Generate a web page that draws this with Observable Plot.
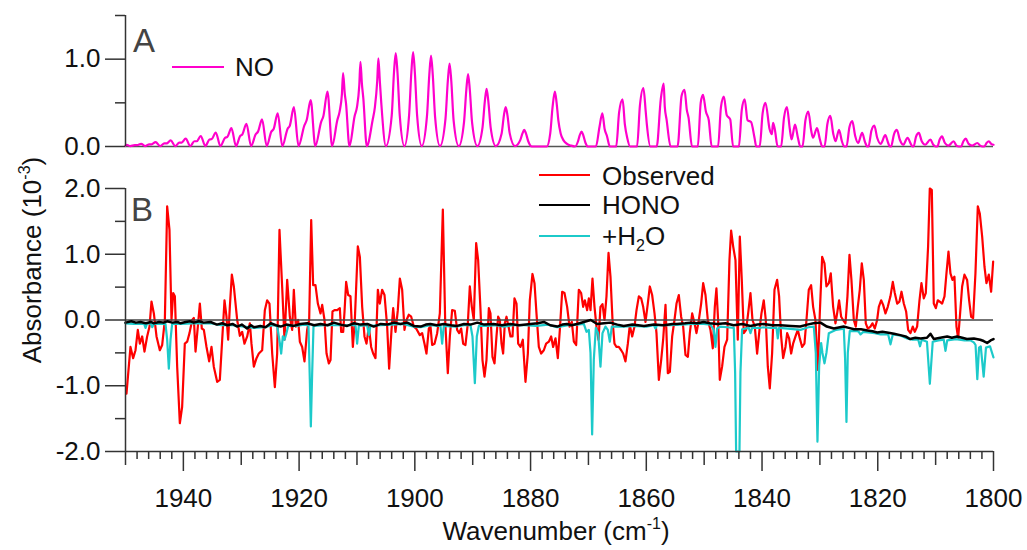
<!DOCTYPE html>
<html>
<head>
<meta charset="utf-8">
<script src="https://cdn.jsdelivr.net/npm/d3@7"></script>
<script src="https://cdn.jsdelivr.net/npm/@observablehq/plot@0.6"></script>
<style>
  html, body { margin: 0; padding: 0; background: #fff; }
  #wrap { position: relative; width: 1027px; height: 550px; overflow: hidden; background: #fff; }
  #wrap svg { position: absolute; left: 0; }
  .lbl { position: absolute; font-family: "Liberation Sans", Arial, Helvetica, sans-serif; font-size: 26px; line-height: 26px; color: #111; white-space: nowrap; }
  .sup { font-size: 16px; position: relative; top: -11px; }
  .sub { font-size: 16px; position: relative; top: 6px; }
  .panel { font-size: 33px; line-height: 33px; color: #444; }
  .legline { position: absolute; height: 2px; }
</style>
</head>
<body>
<div id="wrap"></div>
<script>
// ---------------- data ----------------
// [wavenumber (cm-1), absorbance]
const noSpectrum = [
[1950.0,0.01],[1949.8,0.02],[1949.2,0.005],
[1948.4,0.015],[1948.0,0.015],[1947.3,0.03],[1946.6,0.005],
[1945.9,0.025],[1945.5,0.025],[1944.8,0.05],[1944.0,0.005],
[1943.3,0.035],[1942.9,0.035],[1942.2,0.07],[1941.4,0.005],
[1940.7,0.045],[1940.3,0.045],[1939.6,0.09],[1938.8,0.005],
[1938.1,0.06],[1937.7,0.06],[1937.0,0.12],[1936.2,0.005],
[1935.5,0.08],[1935.1,0.085],[1934.4,0.16],[1933.6,0.005],
[1932.8,0.10],[1932.4,0.11],[1931.7,0.21],[1930.9,0.005],
[1930.2,0.12],[1929.8,0.14],[1929.1,0.26],[1928.3,0.005],
[1927.5,0.14],[1927.1,0.17],[1926.4,0.31],[1925.6,0.005],
[1924.8,0.17],[1924.4,0.20],[1923.7,0.38],[1922.9,0.005],
[1922.0,0.20],[1921.6,0.24],[1920.9,0.45],[1920.1,0.005],
[1919.1,0.24],[1918.7,0.30],[1918.0,0.53],[1917.2,0.005],
[1916.2,0.28],[1915.8,0.35],[1915.1,0.63],[1914.3,0.005],
[1913.4,0.30],[1913.0,0.40],[1912.6,0.60],[1912.4,0.84],[1912.1,0.60],[1911.9,0.50],[1911.3,0.005],
[1910.4,0.35],[1910.0,0.45],[1909.6,0.70],[1909.4,0.97],[1909.15,0.72],[1908.9,0.55],[1908.3,0.005],
[1907.3,0.30],[1906.9,0.45],[1906.5,0.75],[1906.3,1.01],[1906.05,0.75],[1905.8,0.50],[1905.0,0.005],
[1904.0,0.35],[1903.6,0.85],[1903.3,1.07],[1903.0,0.85],[1902.6,0.35],[1901.8,0.005],
[1901.0,0.35],[1900.6,0.85],[1900.3,1.08],[1900.0,0.85],[1899.6,0.35],[1898.8,0.005],
[1897.9,0.35],[1897.5,0.82],[1897.2,1.04],[1896.9,0.82],[1896.5,0.34],[1895.65,0.005],
[1894.7,0.32],[1894.3,0.75],[1894.0,0.95],[1893.7,0.75],[1893.3,0.30],[1892.4,0.005],
[1891.5,0.28],[1891.1,0.65],[1890.8,0.83],[1890.5,0.65],[1890.1,0.27],[1889.2,0.005],
[1888.3,0.22],[1887.9,0.52],[1887.6,0.66],[1887.3,0.52],[1886.9,0.22],[1886.0,0.005],
[1885.0,0.15],[1884.6,0.36],[1884.3,0.45],[1884.0,0.36],[1883.6,0.15],[1882.7,0.005],
[1881.8,0.07],[1881.4,0.15],[1881.1,0.19],[1880.8,0.15],[1880.4,0.06],[1879.8,0],
[1877.2,0],[1876.6,0.15],[1876.2,0.45],[1875.8,0.63],[1875.5,0.50],[1875.2,0.30],[1874.8,0.15],[1874.3,0.07],[1873.7,0.03],[1873.0,0.01],[1872.3,0],
[1871.8,0.06],[1871.5,0.13],[1871.2,0.17],[1870.9,0.13],[1870.5,0.04],[1870.1,0],
[1868.7,0],[1868.1,0.22],[1867.6,0.38],[1867.2,0.20],[1866.8,0.12],[1866.3,0],
[1865.2,0],[1864.7,0.39],[1864.1,0.54],[1863.7,0.25],[1863.3,0.10],[1862.8,0],
[1861.6,0],[1861.1,0.47],[1860.5,0.67],[1860.1,0.40],[1859.9,0.25],[1859.3,0],
[1858.2,0],[1857.5,0.54],[1857.0,0.72],[1856.8,0.45],[1856.5,0.31],[1855.8,0],
[1854.6,0],[1853.9,0.58],[1853.4,0.65],[1853.0,0.42],[1852.7,0.33],[1852.1,0],
[1851.1,0],[1850.6,0.50],[1850.2,0.59],[1849.7,0.40],[1849.2,0.30],[1848.7,0],
[1847.6,0],[1847.1,0.45],[1846.6,0.57],[1846.1,0.36],[1845.5,0.31],[1845.0,0],
[1844.0,0],[1843.5,0.42],[1843.0,0.54],[1842.5,0.30],[1841.9,0.28],[1841.3,0.10],[1841.0,0],
[1840.4,0],[1839.9,0.38],[1839.4,0.50],[1838.7,0.20],[1838.3,0.14],[1838.1,0.27],[1837.8,0.20],[1837.3,0],
[1836.7,0],[1836.2,0.33],[1835.7,0.45],[1835.2,0.20],[1834.9,0.08],[1834.3,0.25],[1833.8,0.10],[1833.4,0],
[1833.0,0],[1832.5,0.30],[1832.0,0.40],[1831.5,0.18],[1831.2,0.10],[1830.5,0.21],[1830.0,0.08],[1829.6,0],
[1829.2,0],[1828.7,0.26],[1828.2,0.35],[1827.7,0.15],[1827.3,0.06],[1826.7,0.19],[1826.2,0.06],[1825.8,0],
[1825.4,0],[1824.9,0.22],[1824.4,0.29],[1823.9,0.12],[1823.4,0.04],[1822.7,0.155],[1822.2,0.05],[1821.8,0],
[1821.6,0],[1821.1,0.18],[1820.6,0.24],[1820.1,0.10],[1819.5,0.03],[1818.7,0.13],[1818.2,0.04],[1817.9,0],
[1817.7,0],[1817.2,0.14],[1816.7,0.19],[1816.2,0.08],[1815.6,0.02],[1814.85,0.10],[1814.3,0.03],[1814.0,0],
[1813.8,0],[1813.4,0.11],[1812.9,0.155],[1812.4,0.06],[1811.8,0.02],[1810.9,0.08],[1810.4,0.02],[1810.0,0],
[1809.7,0],[1809.3,0.08],[1808.9,0.116],[1808.4,0.04],[1807.8,0.01],[1806.9,0.06],[1806.4,0.01],[1806.0,0],
[1805.6,0],[1805.2,0.06],[1804.8,0.09],[1804.3,0.03],[1803.7,0.01],[1802.8,0.04],[1802.3,0.01],[1801.9,0],
[1801.6,0],[1801.2,0.04],[1800.8,0.06],[1800.4,0.03],[1800.0,0.02]
];

// [wavenumber (cm-1), absorbance (10^-3)]
const observedSpectrum = [
[1949.83,-1.12],[1949.14,-0.41],[1948.68,-0.58],[1948.27,-0.46],[1947.87,-0.15],[1947.52,-0.36],[1947.12,-0.25],[1946.72,-0.48],[1946.26,-0.25],[1945.85,-0.10],[1945.51,0.28],[1945.10,0.10],[1944.64,-0.25],[1944.07,-0.46],[1943.66,-0.38],[1943.20,0],[1942.80,1.73],[1942.40,1.37],[1942.05,0],[1941.76,0.41],[1941.47,0.36],[1941.07,-0.71],[1940.61,-1.57],[1940.21,-1.32],[1939.75,-0.36],[1939.34,-0.33],[1938.94,-0.20],[1938.48,0],[1938.19,0.03],[1937.90,-0.48],[1937.50,-0.10],[1937.15,0.25],[1936.81,-0.13],[1936.46,-0.15],[1936.00,-0.41],[1935.54,-0.63],[1935.14,-0.41],[1934.74,-0.71],[1934.16,-0.94],[1933.70,-0.91],[1933.29,-0.30],[1932.89,0.30],[1932.55,0.05],[1932.26,-0.30],[1931.97,0.20],[1931.62,0.69],[1931.28,0.51],[1930.70,0],[1930.24,-0.24],[1929.84,-0.18],[1929.44,-0.36],[1928.97,-0.25],[1928.51,-0.05],[1928.23,-0.36],[1927.82,-0.71],[1927.36,-0.58],[1926.96,-0.51],[1926.38,-0.46],[1925.92,0.15],[1925.52,0.30],[1925.12,0.25],[1924.65,-0.51],[1924.19,-1.02],[1923.79,-0.51],[1923.39,1.37],[1922.93,0.51],[1922.52,-0.30],[1922.06,0.61],[1921.60,0.05],[1921.20,-0.15],[1920.91,0.46],[1920.56,-0.10],[1920.16,0],[1919.87,-0.33],[1919.47,-0.41],[1919.07,-0.63],[1918.61,-0.15],[1918.26,0],[1917.91,1.52],[1917.57,0.53],[1917.17,0.53],[1916.76,0.25],[1916.30,0.10],[1916.01,0.23],[1915.61,0],[1915.26,-0.51],[1914.86,-0.66],[1914.57,-0.61],[1914.23,0.13],[1913.88,0.15],[1913.42,0.15],[1912.96,0.18],[1912.73,-0.18],[1912.38,-0.18],[1912.15,0.13],[1911.87,0.58],[1911.52,0.38],[1911.12,0.36],[1910.71,-0.41],[1910.37,0],[1909.85,1.12],[1909.50,0.96],[1909.10,0.20],[1908.70,-0.25],[1908.35,-0.36],[1907.95,-0.10],[1907.55,-0.41],[1907.20,-0.51],[1906.80,-0.58],[1906.39,0.46],[1906.05,0.25],[1905.65,0.46],[1905.24,0.38],[1904.78,-0.10],[1904.44,-0.74],[1904.03,-0.15],[1903.74,0.18],[1903.34,-0.18],[1902.94,0.15],[1902.59,0.63],[1902.19,0.46],[1901.79,-0.15],[1901.44,0],[1901.04,0.08],[1900.63,0.05],[1900.17,-0.10],[1899.77,-0.13],
[1899.14,-0.23],[1898.73,-0.20],[1898.33,-0.36],[1897.99,-0.51],[1897.58,-0.13],[1897.29,-0.10],[1897.01,-0.38],[1896.60,-0.36],[1896.14,-0.20],[1895.68,0.10],[1895.16,1.68],[1894.76,0],[1894.30,-0.81],[1893.95,-0.25],[1893.55,0.15],[1893.09,0.14],[1892.69,-0.15],[1892.34,-0.20],[1891.99,-0.13],[1891.65,-0.36],[1891.25,-0.38],[1890.84,-0.05],[1890.50,0.51],[1890.15,0.20],[1889.81,0],[1889.40,1.17],[1889.06,0.91],[1888.65,0.15],[1888.31,-0.61],[1887.96,-0.86],[1887.62,-0.61],[1887.21,0.18],[1886.93,0.10],[1886.58,-0.56],[1886.23,-0.66],[1885.89,-0.25],[1885.60,0.05],[1885.31,0],[1885.02,-0.36],[1884.74,-0.51],[1884.45,-0.05],[1884.16,0.05],[1883.81,-0.10],[1883.47,-0.25],[1883.12,-0.25],[1882.78,0.33],[1882.43,0.25],[1882.14,-0.36],[1881.74,-0.41],[1881.34,-0.30],[1880.88,-0.94],[1880.47,-0.51],[1880.13,0.30],[1879.67,0.70],[1879.32,0.56],[1878.98,0.10],[1878.57,-0.41],[1878.17,-0.51],[1877.71,-0.46],[1877.31,-0.36],[1876.84,-0.33],[1876.44,-0.25],[1876.10,-0.41],[1875.69,-0.28],[1875.29,-0.58],[1874.94,-0.15],[1874.54,0.43],[1874.14,0.41],[1873.68,0.20],[1873.27,-0.10],[1872.87,-0.03],[1872.52,-0.33],[1872.12,-0.38],[1871.66,0.46],[1871.26,0.41],[1870.91,0.20],[1870.62,0.30],[1870.22,0.15],[1869.93,0.33],[1869.64,0.15],[1869.30,0.63],[1868.95,0.20],[1868.61,-0.10],[1868.26,-0.30],[1867.92,0.20],[1867.57,0.24],[1867.22,0],[1866.88,0.36],[1866.53,1.02],[1866.19,0.66],[1865.84,0],[1865.50,-0.36],[1865.15,-0.41],[1864.75,-0.41],[1864.34,-0.46],[1864.00,-0.51],[1863.60,-0.63],[1863.19,-0.36],[1862.85,-0.08],[1862.44,-0.25],[1862.04,-0.10],[1861.69,0.15],[1861.29,0.36],[1860.89,0.33],[1860.54,0.20],[1860.14,-0.03],[1859.74,0.25],[1859.39,0.51],[1858.99,0.38],[1858.58,0.10],[1858.24,-0.20],[1857.83,-0.91],[1857.43,-0.61],[1857.09,-0.30],[1856.68,0.23],[1856.28,-0.81],[1855.93,-0.79],[1855.53,-0.25],[1855.13,0],[1854.78,0.25],[1854.38,0.38],[1853.98,0.05],[1853.63,-0.10],[1853.23,-0.53],[1852.82,-0.56],[1852.48,-0.20],[1852.07,0.10],[1851.67,-0.05],[1851.33,-0.20],[1850.92,0],[1850.52,0.25],[1850.17,0.56],[1849.77,0.38],[1849.37,0],
[1848.91,-0.15],[1848.51,-0.43],[1848.16,0.20],[1847.88,0.48],[1847.59,0],[1847.30,-0.91],[1846.90,-0.71],[1846.49,-0.41],[1846.03,-0.30],[1845.63,0.91],[1845.34,1.36],[1844.99,1.12],[1844.59,0.91],[1844.19,-0.30],[1843.84,1.27],[1843.50,0.61],[1843.15,-0.20],[1842.75,-0.15],[1842.40,0.10],[1842.00,0.41],[1841.65,0],[1841.25,-0.10],[1840.85,-0.51],[1840.44,-0.15],[1840.10,0.10],[1839.70,0.30],[1839.35,0],[1839.00,-0.71],[1838.66,-1.04],[1838.26,-0.51],[1837.85,0.46],[1837.39,0.61],[1837.05,0.36],[1836.70,-0.25],[1836.35,-0.58],[1835.95,-0.41],[1835.66,-0.20],[1835.32,-0.28],[1834.97,-0.51],[1834.63,-0.36],[1834.22,-0.25],[1833.82,-0.15],[1833.47,-0.28],[1833.07,-0.41],[1832.67,-0.36],[1832.32,0],[1831.92,0.46],[1831.52,0.53],[1831.17,0.20],[1830.77,0],[1830.36,-0.76],[1830.02,0.10],[1829.61,0.96],[1829.21,0.86],[1828.87,0.51],[1828.46,0.56],[1828.12,0.71],[1827.71,0.20],[1827.31,-0.05],[1827.02,0.10],[1826.68,0.30],[1826.33,0.05],[1825.99,0],[1825.58,-0.05],[1825.24,0.36],[1824.89,0.99],[1824.55,0.61],[1824.14,0],[1823.80,-0.10],[1823.45,0.20],[1823.11,0.46],[1822.76,0.86],[1822.41,0.61],[1822.07,-0.05],[1821.72,-0.13],[1821.26,-0.10],[1820.92,-0.05],[1820.51,-0.13],[1820.11,0],[1819.82,0.20],[1819.42,0.30],[1819.07,0.23],[1818.67,0.10],[1818.27,0.20],[1817.81,0.36],[1817.40,0.58],[1817.06,0.41],[1816.65,0.25],[1816.25,0.28],[1815.90,0.43],[1815.50,0.25],[1815.10,0.13],[1814.75,-0.15],[1814.35,-0.20],[1813.95,-0.10],[1813.60,-0.18],[1813.20,-0.10],[1812.79,0.30],[1812.45,0.56],[1812.05,0.33],[1811.70,0.41],[1811.30,1.12],[1811.01,2.0],[1810.66,1.98],[1810.32,0.25],[1809.97,0.18],[1809.63,0.30],[1809.28,0.28],[1808.88,0.25],[1808.47,0.36],[1808.13,0.71],[1807.78,1.04],[1807.44,0.71],[1807.09,0.61],[1806.75,0.66],[1806.40,-0.10],[1806.11,-0.28],[1805.77,0.10],[1805.42,0.51],[1805.02,0.69],[1804.56,0.61],[1804.21,0.30],[1803.87,0.05],[1803.52,0.03],[1803.12,0.71],[1802.71,1.73],[1802.37,1.62],[1801.96,1.27],[1801.56,0.81],[1801.22,0.56],[1800.81,0.69],[1800.41,0.43],[1800.06,0.89]
];

const honoSpectrum = [
[1950.0,-0.04],[1949.0,-0.02],[1948.2,-0.04],[1947.4,-0.03],[1946.5,-0.05],[1945.6,-0.03],[1945.1,-0.05],[1944.2,-0.03],[1943.4,-0.04],[1942.8,-0.02],[1941.9,-0.04],[1941.0,-0.03],[1940.5,-0.05],[1939.6,-0.03],[1938.8,-0.02],[1938.2,-0.04],[1937.3,-0.02],[1936.5,-0.04],[1935.3,-0.03],[1934.2,-0.07],[1933.3,-0.05],[1932.4,-0.08],[1931.5,-0.06],[1930.7,-0.10],[1929.9,-0.07],[1929.0,-0.13],[1928.3,-0.08],[1927.8,-0.11],[1926.7,-0.09],[1925.8,-0.11],[1924.9,-0.05],[1924.0,-0.08],[1923.2,-0.10],[1922.2,-0.07],[1920.9,-0.09],[1919.8,-0.06],[1918.6,-0.05],[1917.4,-0.08],[1916.3,-0.06],[1915.1,-0.08],[1914.0,-0.04],[1912.8,-0.07],[1911.7,-0.09],[1910.5,-0.05],[1909.4,-0.07],[1908.2,-0.06],[1907.1,-0.10],[1905.9,-0.06],[1904.8,-0.07],[1903.6,-0.04],[1902.5,-0.06],[1901.3,-0.04],[1900.2,-0.09],
[1899.0,-0.10],[1898.1,-0.07],[1897.3,-0.06],[1896.2,-0.08],[1895.0,-0.06],[1893.8,-0.08],[1892.7,-0.09],[1891.5,-0.06],[1890.4,-0.07],[1889.2,-0.04],[1888.0,-0.07],[1886.4,-0.06],[1885.0,-0.08],[1883.5,-0.06],[1882.0,-0.08],[1880.0,-0.06],[1878.8,-0.05],[1877.7,-0.03],[1876.6,-0.08],[1875.4,-0.10],[1874.5,-0.07],[1873.7,-0.06],[1872.9,-0.08],[1872.0,-0.06],[1870.8,-0.03],[1869.6,0.0],[1868.5,-0.06],[1867.3,-0.05],[1866.2,-0.04],[1865.0,-0.07],[1863.9,-0.09],[1862.4,-0.07],[1860.4,-0.09],[1858.7,-0.07],[1857.0,-0.08],[1855.5,-0.06],[1854.7,-0.06],[1853.3,-0.05],[1852.4,-0.04],[1851.2,-0.05],[1850.1,-0.03],
[1849.0,-0.05],[1847.8,-0.06],[1846.3,-0.05],[1844.9,-0.08],[1843.4,-0.06],[1842.0,-0.09],[1840.8,-0.07],[1839.7,-0.06],[1838.2,-0.08],[1836.8,-0.08],[1835.0,-0.09],[1833.4,-0.10],[1832.2,-0.07],[1831.1,-0.05],[1829.9,-0.04],[1828.8,-0.10],[1827.6,-0.13],[1825.9,-0.10],[1825.0,-0.12],[1824.1,-0.14],[1822.9,-0.14],[1821.8,-0.16],[1820.9,-0.17],[1820.1,-0.19],[1819.2,-0.18],[1818.4,-0.19],[1817.2,-0.21],[1816.1,-0.23],[1815.2,-0.25],[1814.4,-0.29],[1813.5,-0.27],[1812.6,-0.28],[1811.5,-0.27],[1810.9,-0.21],[1810.3,-0.29],[1809.2,-0.27],[1808.0,-0.25],[1807.2,-0.27],[1806.3,-0.25],[1805.4,-0.27],[1804.6,-0.29],[1803.4,-0.28],[1802.3,-0.30],[1801.7,-0.32],[1801.1,-0.35],[1800.5,-0.31],[1800.0,-0.29]
];

const waterSpectrum = [
[1950.0,-0.05],[1948.5,-0.06],[1947.0,-0.06],[1946.8,-0.05],[1946.54,-0.12],[1946.26,-0.05],[1945.6,-0.06],[1945.39,-0.11],[1945.1,-0.06],
[1943.09,-0.06],[1942.8,-0.30],[1942.51,-0.74],[1942.22,-0.30],[1941.94,-0.06],
[1940.5,-0.06],[1938.5,-0.05],[1936.5,-0.05],[1935.3,-0.05],[1933.5,-0.08],[1931.5,-0.08],[1929.5,-0.10],[1927.8,-0.12],[1926.0,-0.11],[1924.6,-0.08],
[1923.79,-0.09],[1923.33,-0.35],[1923.10,-0.51],[1922.81,-0.25],[1922.52,-0.30],[1922.24,-0.22],[1921.89,-0.09],
[1920.5,-0.09],[1919.2,-0.07],
[1918.38,-0.08],[1918.15,-0.90],[1917.97,-1.62],[1917.74,-0.80],[1917.51,-0.09],
[1915.5,-0.08],[1913.0,-0.08],[1911.0,-0.08],
[1910.25,-0.08],[1909.97,-0.36],[1909.68,-0.09],
[1908.24,-0.08],[1907.95,-0.23],[1907.67,-0.09],
[1906.0,-0.08],[1904.0,-0.07],[1902.0,-0.06],[1900.2,-0.10],
[1899.0,-0.11],[1897.3,-0.08],[1896.0,-0.09],
[1895.57,-0.09],[1895.28,-0.36],[1894.99,-0.09],
[1893.0,-0.10],[1891.5,-0.08],
[1890.38,-0.08],[1890.04,-0.25],[1889.63,-0.96],[1889.29,-0.25],[1888.94,-0.09],
[1887.5,-0.09],[1886.0,-0.08],[1884.6,-0.10],[1883.0,-0.08],[1881.0,-0.08],[1879.0,-0.09],[1877.0,-0.07],[1875.4,-0.11],[1873.5,-0.08],[1872.0,-0.07],
[1870.80,-0.06],[1870.33,-0.18],[1869.93,-0.15],[1869.64,-0.50],[1869.36,-1.74],[1869.07,-0.60],[1868.72,-0.12],[1868.32,-0.20],[1867.92,-0.71],[1867.57,-0.20],[1867.05,-0.10],[1866.65,-0.15],[1866.30,-0.33],[1865.96,-0.10],
[1864.0,-0.10],[1862.0,-0.09],[1860.0,-0.10],
[1858.70,-0.08],[1858.41,-0.13],[1858.13,-0.08],
[1856.0,-0.08],[1854.0,-0.07],[1852.0,-0.06],[1850.06,-0.06],
[1848.91,-0.07],[1848.34,-0.15],[1848.05,-0.41],[1847.76,-0.13],[1847.2,-0.10],[1846.0,-0.11],
[1844.88,-0.12],[1844.65,-0.80],[1844.48,-2.0],[1843.90,-2.0],[1843.73,-0.80],[1843.44,-0.14],
[1842.29,-0.12],[1842.00,-0.20],[1841.71,-0.12],
[1840.5,-0.12],[1839.70,-0.11],[1838.5,-0.12],
[1837.5,-0.12],[1837.28,-0.28],[1837.05,-0.12],
[1835.5,-0.13],[1833.36,-0.15],[1832.0,-0.11],[1831.05,-0.10],
[1830.71,-0.50],[1830.42,-1.85],[1830.13,-0.70],[1829.79,-0.35],[1829.56,-0.50],[1829.21,-0.66],[1828.87,-0.50],[1828.46,-0.20],
[1827.2,-0.15],[1825.87,-0.13],[1825.64,-0.60],[1825.41,-1.55],[1825.18,-0.50],[1824.84,-0.17],
[1823.5,-0.17],[1823.28,-0.18],[1822.99,-0.22],[1822.5,-0.18],
[1820.5,-0.20],[1819.53,-0.22],[1818.2,-0.22],[1817.8,-0.37],[1817.4,-0.22],
[1816.0,-0.24],[1814.93,-0.28],[1814.0,-0.30],
[1813.0,-0.30],[1812.7,-0.40],[1812.4,-0.30],
[1811.5,-0.33],[1811.0,-0.97],[1810.5,-0.33],
[1809.5,-0.31],[1808.6,-0.30],[1808.3,-0.47],[1808.0,-0.31],
[1806.5,-0.29],[1805.0,-0.31],[1804.0,-0.31],[1803.4,-0.34],
[1803.1,-0.38],[1802.8,-0.90],[1802.5,-0.42],[1802.2,-0.40],[1801.7,-0.86],[1801.3,-0.42],[1800.6,-0.40],[1800.0,-0.57]
];

// tick values
const xLabelTicks = [1940, 1920, 1900, 1880, 1860, 1840, 1820, 1800];
const xMidTicks = [1950, 1930, 1910, 1890, 1870, 1850, 1830, 1810];
const xMinorTicks = d3.range(1800, 1951, 2).filter(d => d % 10 !== 0);
const yLabelTicksA = [0, 1];
const yMinorTicksA = [0.5, 1.5];
const yLabelTicksB = [-2, -1, 0, 1, 2];
const yMinorTicksB = [-1.5, -0.5, 0.5, 1.5];

// ---------------- drawing ----------------
const colors = {no: "#ff00cc", observed: "#ff0000", hono: "#000000", water: "#1ccaca"};
const fontFamily = '"Liberation Sans", Arial, Helvetica, sans-serif';
const axisColor = "#333";
const fmt1 = d => d.toFixed(1);
const X = d => d[0], Y = d => d[1];
const wrap = document.getElementById("wrap");

const baseStyle = {fontFamily, fontSize: "26px", color: "#111", background: "transparent", overflow: "visible"};

const panelA = Plot.plot({
  width: 1027, height: 160,
  marginLeft: 125, marginRight: 34, marginTop: 15, marginBottom: 14,
  style: baseStyle,
  x: {domain: [1950, 1800], axis: null},
  y: {domain: [0, 1.5], axis: null},
  marks: [
    Plot.ruleY([0], {stroke: "#555", strokeWidth: 1.5}),
    Plot.line(noSpectrum, {x: X, y: Y, stroke: colors.no, strokeWidth: 2.2, curve: "monotone-x"}),
    Plot.ruleX([1950], {y1: 0, y2: 1.5, stroke: axisColor, strokeWidth: 1.5}),
    Plot.axisY(yLabelTicksA, {tickSize: 20, tickPadding: 5, tickFormat: fmt1, fontSize: 26, stroke: axisColor, fill: "#111", strokeWidth: 1.5, label: null}),
    Plot.axisY(yMinorTicksA, {tickSize: 10, fill: "none", stroke: axisColor, strokeWidth: 1.5, label: null})
  ]
});
panelA.style.top = "0px";
wrap.appendChild(panelA);

const panelB = Plot.plot({
  width: 1027, height: 390,
  marginLeft: 125, marginRight: 34, marginTop: 28, marginBottom: 99,
  style: baseStyle,
  x: {domain: [1950, 1800], axis: null},
  y: {domain: [-2, 2], axis: null},
  marks: [
    Plot.line(observedSpectrum, {x: X, y: Y, stroke: colors.observed, strokeWidth: 2.2}),
    Plot.line(waterSpectrum, {x: X, y: Y, stroke: colors.water, strokeWidth: 2.2}),
    Plot.ruleY([0], {stroke: "#444", strokeWidth: 1.5}),
    Plot.line(honoSpectrum, {x: X, y: Y, stroke: colors.hono, strokeWidth: 2.5}),
    Plot.ruleX([1950], {y1: -2, y2: 2, stroke: axisColor, strokeWidth: 1.5}),
    Plot.ruleY([-2], {stroke: axisColor, strokeWidth: 1.5}),
    Plot.axisY(yLabelTicksB, {tickSize: 20, tickPadding: 5, tickFormat: fmt1, fontSize: 26, stroke: axisColor, fill: "#111", strokeWidth: 1.5, label: null}),
    Plot.axisY(yMinorTicksB, {tickSize: 10, fill: "none", stroke: axisColor, strokeWidth: 1.5, label: null}),
    Plot.axisX(xLabelTicks, {anchor: "bottom", tickSize: 20, tickPadding: 17, tickFormat: d => String(d), fontSize: 26, stroke: axisColor, fill: "#111", strokeWidth: 1.5, label: null}),
    Plot.axisX(xMidTicks, {anchor: "bottom", tickSize: 14, fill: "none", stroke: axisColor, strokeWidth: 1.5, label: null}),
    Plot.axisX(xMinorTicks, {anchor: "bottom", tickSize: 8, fill: "none", stroke: axisColor, strokeWidth: 1.5, label: null})
  ]
});
panelB.style.top = "160px";
wrap.appendChild(panelB);

// ---------------- text overlays: panel letters, legends, axis titles ----------------
function addText(html, cls, left, top, extra) {
  const el = document.createElement("div");
  el.className = "lbl" + (cls ? " " + cls : "");
  el.innerHTML = html;
  el.style.left = left + "px";
  el.style.top = top + "px";
  if (extra) Object.assign(el.style, extra);
  wrap.appendChild(el);
  return el;
}
function addLine(color, left, top, width) {
  const el = document.createElement("div");
  el.className = "legline";
  el.style.left = left + "px";
  el.style.top = top + "px";
  el.style.width = width + "px";
  el.style.background = color;
  wrap.appendChild(el);
}

addText("A", "panel", 133, 24);
addText("B", "panel", 131, 193);

addLine(colors.no, 172, 66, 52);
addText("NO", "", 235, 54);

addLine(colors.observed, 539, 174, 51);
addText("Observed", "", 602, 163);
addLine(colors.hono, 539, 204, 51);
addText("HONO", "", 602, 192);
addLine(colors.water, 539, 235, 51);
addText('+H<span class="sub">2</span>O', "", 602, 223);

addText('Wavenumber (cm<span class="sup">-1</span>)', "", 556, 518, {transform: "translateX(-50%)"});
addText('Absorbance (10<span class="sup">-3</span>)', "", 34, 260, {transform: "translate(-50%, -50%) rotate(-90deg)"});
</script>
</body>
</html>
